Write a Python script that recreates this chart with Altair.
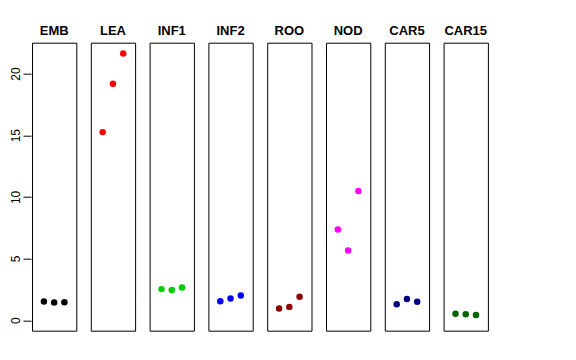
import altair as alt
import pandas as pd

tissues = ["EMB", "LEA", "INF1", "INF2", "ROO", "NOD", "CAR5", "CAR15"]
colors = ["#000000", "#FF0000", "#00CD00", "#0000FF", "#8B0000", "#FF00FF", "#000080", "#006400"]
reps = [1, 2, 3]
emb = [1.52, 1.44, 1.46]
lea = [15.25, 19.17, 21.63]
inf1 = [2.52, 2.44, 2.66]
inf2 = [1.54, 1.76, 2.00]
roo = [0.95, 1.08, 1.90]
nod = [7.36, 5.66, 10.48]
car5 = [1.30, 1.71, 1.49]
car15 = [0.52, 0.49, 0.43]
series = [emb, lea, inf1, inf2, roo, nod, car5, car15]

rows = []
for t, vals in zip(tissues, series):
    for r, v in zip(reps, vals):
        rows.append({"tissue": t, "rep": r, "value": v})
df = pd.DataFrame(rows)

FONT = "Liberation Sans"

base = alt.Chart(df).mark_circle(size=42, opacity=1).encode(
    x=alt.X("rep:Q", scale=alt.Scale(domain=[-0.16, 4.16], nice=False, zero=False), axis=None),
    y=alt.Y("value:Q", scale=alt.Scale(domain=[-0.85, 22.5], nice=False, zero=False),
            axis=alt.Axis(values=[0, 5, 10, 15, 20], title=None, grid=False, domain=False,
                          tickSize=8, tickColor="#000000", labelAngle=270, labelAlign="center",
                          labelBaseline="bottom", labelPadding=1, labelFontSize=12,
                          labelColor="#000000", labelFont=FONT)),
    color=alt.Color("tissue:N", scale=alt.Scale(domain=tissues, range=colors), legend=None),
).properties(width=44.3, height=288)

chart = base.facet(
    column=alt.Column("tissue:N", sort=tissues,
                      header=alt.Header(title=None, labelFontWeight="bold", labelFontSize=13,
                                        labelFont=FONT, labelColor="#000000", labelPadding=4)),
    spacing=12.8,
).configure_view(stroke="#000000", strokeWidth=1).properties(
    padding={"left": 0, "top": 16.7, "right": 0, "bottom": 0}
)

chart.save("out.html", embed_options={"renderer": "svg", "actions": False})
